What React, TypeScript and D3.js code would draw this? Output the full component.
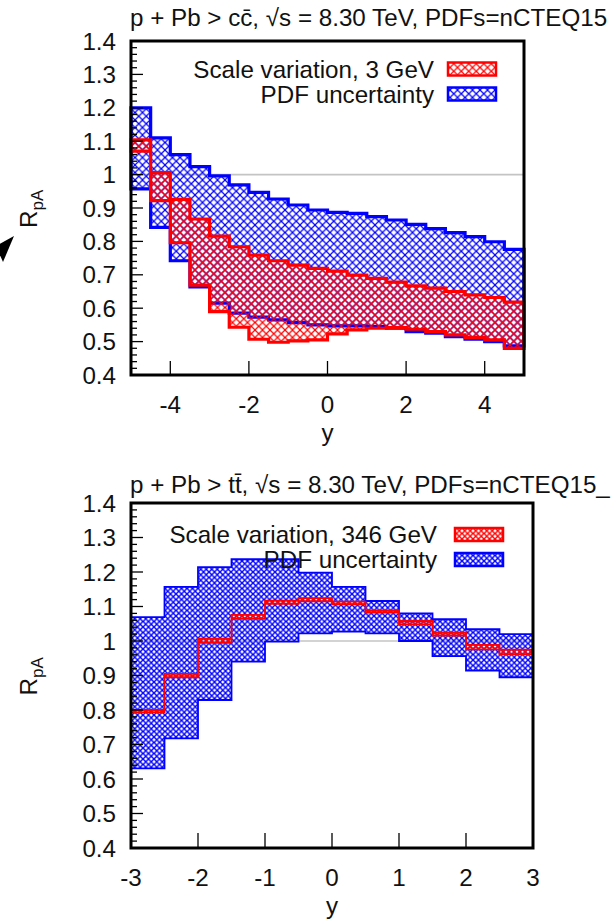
import React from 'react'
import * as d3 from 'd3'

// p + Pb > c cbar, bins of 0.5 in y
const ccEdges = [-5, -4.5, -4, -3.5, -3, -2.5, -2, -1.5, -1, -0.5, 0, 0.5, 1, 1.5, 2, 2.5, 3, 3.5, 4, 4.5, 5]
const ccPdfLow = [0.957, 0.842, 0.742, 0.664, 0.615, 0.585, 0.573, 0.565, 0.557, 0.55, 0.547, 0.547, 0.545, 0.54, 0.53, 0.525, 0.515, 0.507, 0.5, 0.487]
const ccPdfHigh = [1.2, 1.11, 1.06, 1.024, 0.996, 0.969, 0.947, 0.927, 0.909, 0.894, 0.887, 0.884, 0.874, 0.864, 0.851, 0.838, 0.826, 0.814, 0.799, 0.776]
const ccScaleLow = [1.07, 0.922, 0.796, 0.669, 0.59, 0.543, 0.507, 0.498, 0.502, 0.505, 0.523, 0.535, 0.54, 0.542, 0.537, 0.53, 0.52, 0.512, 0.505, 0.48]
const ccScaleHigh = [1.104, 1.006, 0.926, 0.867, 0.816, 0.784, 0.759, 0.742, 0.729, 0.719, 0.711, 0.699, 0.689, 0.678, 0.667, 0.66, 0.65, 0.64, 0.632, 0.618]
const ccXTicks = [-4, -2, 0, 2, 4]

// p + Pb > t tbar
const ttEdges = [-3, -2.5, -2, -1.5, -1, -0.5, 0, 0.5, 1, 1.5, 2, 2.5, 3]
const ttPdfLow = [0.631, 0.718, 0.829, 0.94, 0.998, 1.022, 1.027, 1.022, 1.0, 0.956, 0.914, 0.895]
const ttPdfHigh = [1.069, 1.157, 1.214, 1.237, 1.237, 1.198, 1.157, 1.116, 1.08, 1.063, 1.034, 1.02]
const ttScaleLow = [0.793, 0.895, 0.995, 1.064, 1.108, 1.115, 1.106, 1.082, 1.048, 1.016, 0.976, 0.962]
const ttScaleHigh = [0.8, 0.905, 1.007, 1.076, 1.117, 1.124, 1.114, 1.089, 1.058, 1.024, 0.989, 0.975]
const ttXTicks = [-3, -2, -1, 0, 1, 2, 3]

const yTickValues = [0.4, 0.5, 0.6, 0.7, 0.8, 0.9, 1, 1.1, 1.2, 1.3, 1.4]

const FONT = '"Liberation Sans", Arial, sans-serif'
const FS = 24.2

function Panel(props: any) {
  const { id, title, scaleLabel, edges, pdfLow, pdfHigh, scaleLow, scaleHigh, xTicks,
    box, titleY, outline, hatch, legendX, legendY, legendTextX, majorXTick } = props

  const x = d3.scaleLinear().domain([edges[0], edges[edges.length - 1]]).range([box.left, box.right])
  const y = d3.scaleLinear().domain([0.4, 1.4]).range([box.bottom, box.top])
  const fmt = d3.format('~g')

  const band = (lo: number[], hi: number[]) =>
    d3.area<number>()
      .x(d => x(d))
      .y0((d, i) => y(lo[Math.min(i, lo.length - 1)]))
      .y1((d, i) => y(hi[Math.min(i, hi.length - 1)]))
      .curve(d3.curveStepAfter)(edges) || ''

  const minor = y.ticks(50)
  const midY = (box.top + box.bottom) / 2

  return (
    <g fontFamily={FONT} fontSize={FS} fill="#111">
      <defs>
        {[['red', '#ff0000'], ['blue', '#0000ff']].map(([k, c]) => (
          <pattern key={k} id={`${id}-${k}`} patternUnits="userSpaceOnUse" width={hatch.size} height={hatch.size}>
            <path d={`M0,0L${hatch.size},${hatch.size}M${hatch.size},0L0,${hatch.size}`}
              stroke={c} strokeWidth={hatch.width} fill="none" />
          </pattern>
        ))}
      </defs>

      <text x={130} y={titleY}>{title}</text>

      {/* reference line */}
      <line x1={box.left} x2={box.right} y1={y(1)} y2={y(1)} stroke="#c4c4c4" strokeWidth={1.6} />

      <path d={band(pdfLow, pdfHigh)} fill={`url(#${id}-blue)`} stroke="#0000ff" strokeWidth={outline} />
      <path d={band(scaleLow, scaleHigh)} fill={`url(#${id}-red)`} stroke="#ff0000" strokeWidth={outline} />

      {/* legend */}
      <text x={legendTextX} y={legendY + 8.5} textAnchor="end">{scaleLabel}</text>
      <text x={legendTextX} y={legendY + 25 + 8.5} textAnchor="end">PDF uncertainty</text>
      <rect x={legendX} y={legendY - 6.5} width={48} height={13} fill={`url(#${id}-red)`} stroke="#ff0000" strokeWidth={2.5} />
      <rect x={legendX} y={legendY + 25 - 6.5} width={48} height={13} fill={`url(#${id}-blue)`} stroke="#0000ff" strokeWidth={2.5} />

      {/* y ticks */}
      {minor.map(v => {
        const isMajor = yTickValues.some(t => Math.abs(t - v) < 1e-6)
        return <line key={v} x1={box.left} x2={box.left + (isMajor ? 12 : 6)} y1={y(v)} y2={y(v)} stroke="#000" strokeWidth={1.3} />
      })}
      {yTickValues.map(v => (
        <text key={v} x={116} y={y(v) + 8.5} textAnchor="end">{fmt(v)}</text>
      ))}

      {/* x ticks */}
      {xTicks.map((v: number) => (
        <g key={v}>
          <line x1={x(v)} x2={x(v)} y1={box.bottom} y2={box.bottom - majorXTick} stroke="#000" strokeWidth={1.3} />
          <text x={x(v)} y={box.bottom + 38} textAnchor="middle">{String(v)}</text>
        </g>
      ))}

      <text x={(box.left + box.right) / 2} y={box.bottom + 66} textAnchor="middle">y</text>

      <text transform={`translate(37,${midY + 20}) rotate(-90)`}>
        R<tspan fontSize={17} dy={6}>pA</tspan>
      </text>

      <rect x={box.left} y={box.top} width={box.right - box.left} height={box.bottom - box.top}
        fill="none" stroke="#000" strokeWidth={3} />
    </g>
  )
}

export default function App() {
  return (
    <svg width={615} height={922} viewBox="0 0 615 922"
      style={{ position: 'absolute', left: 0, top: 0, background: '#fff' }}>
      <rect width={615} height={922} fill="#fff" />
      <Panel id="cc" title="p + Pb > cc̄, √s = 8.30 TeV, PDFs=nCTEQ15" scaleLabel="Scale variation, 3 GeV"
        edges={ccEdges} pdfLow={ccPdfLow} pdfHigh={ccPdfHigh} scaleLow={ccScaleLow} scaleHigh={ccScaleHigh}
        xTicks={ccXTicks} box={{ left: 131, right: 524, top: 41, bottom: 375 }} titleY={26}
        outline={3.2} hatch={{ size: 7.5, width: 1.2 }} legendX={448} legendY={69} legendTextX={434} majorXTick={14} />
      <Panel id="tt" title="p + Pb > tt̄, √s = 8.30 TeV, PDFs=nCTEQ15_" scaleLabel="Scale variation, 346 GeV"
        edges={ttEdges} pdfLow={ttPdfLow} pdfHigh={ttPdfHigh} scaleLow={ttScaleLow} scaleHigh={ttScaleHigh}
        xTicks={ttXTicks} box={{ left: 131, right: 533, top: 503, bottom: 848 }} titleY={493}
        outline={1.8} hatch={{ size: 5.5, width: 1.4 }} legendX={455} legendY={534.5} legendTextX={437} majorXTick={15} />
      {/* arrow head cut by the left edge */}
      <path d="M14,236L-4,246L3,262Z" fill="#000" />
    </svg>
  )
}
